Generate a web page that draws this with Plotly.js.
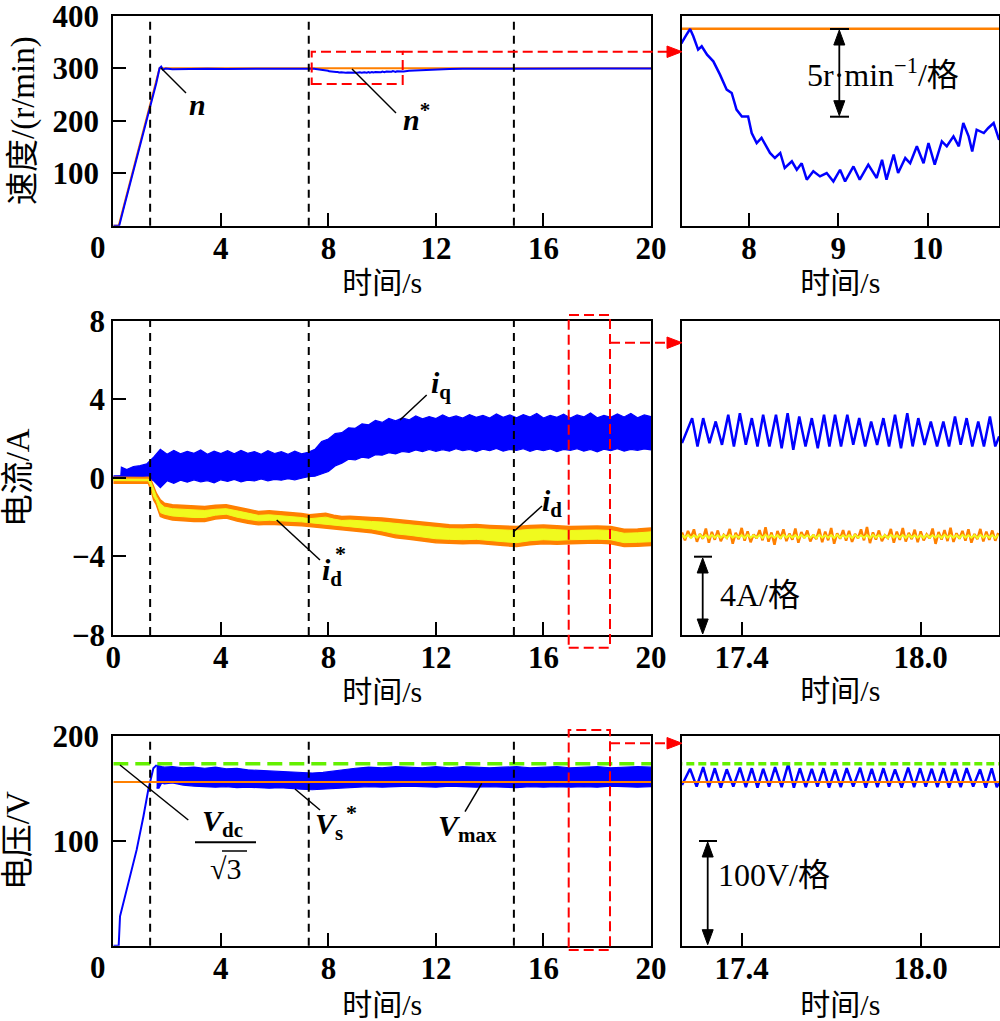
<!DOCTYPE html>
<html><head><meta charset="utf-8">
<script src="https://cdn.plot.ly/plotly-3.0.1.min.js"></script>
<style>html,body{margin:0;padding:0;background:#fff}#chart{width:1000px;height:1021px}</style>
</head><body><div id="chart"></div>
<script>
// ---------------- DATA ----------------
const event_times = [1.37, 7.27, 14.9];

// speed reference n*
const t_nref = [0, 0.2, 1.72, 20];
const n_ref = [0, 0, 300, 300];
// measured speed n
const t_n = [0, 0.22, 0.4, 0.6, 0.8, 1.0, 1.2, 1.4, 1.6, 1.72,
  1.78, 1.85, 1.95, 2.2, 2.8, 3.5, 4.2, 5.0, 5.8, 6.5,
  7.0, 7.245, 7.30, 7.34, 7.376, 7.43, 7.47, 7.53, 7.60, 7.675,
  7.75, 7.806, 7.86, 7.92, 7.99, 8.03, 8.086, 8.14, 8.235, 8.29,
  8.35, 8.40, 8.48, 8.535, 8.59, 8.647, 8.72, 8.795, 8.87, 8.945,
  9.02, 9.076, 9.17, 9.24, 9.336, 9.43, 9.49, 9.54, 9.62, 9.67,
  9.75, 9.805, 9.88, 9.955, 10.01, 10.08, 10.16, 10.215, 10.29, 10.35,
  10.40, 10.46, 10.50, 10.55, 10.63, 10.68, 10.74, 10.80, 11.0, 11.5,
  12.0, 12.5, 13.0, 14.0, 15.0, 16.0, 17.0, 18.0, 19.0, 20.0];
const n_meas = [0, 0, 36, 75, 114, 154, 193, 232, 272, 300,
  303, 297, 299.5, 298.2, 298.8, 299.1, 298.6, 299.0, 298.7, 299.2,
  298.9, 299.18, 299.66, 299.98, 299.56, 298.8, 298.99, 298.51, 298.13, 297.37,
  296.51, 296.32, 295.37, 294.98, 294.98, 294.03, 293.46, 293.75, 292.89, 292.6,
  292.89, 292.03, 292.41, 291.93, 292.3, 291.36, 291.84, 291.55, 291.74, 291.26,
  291.93, 291.26, 292.12, 291.36, 292.22, 291.46, 292.5, 291.36, 292.8, 291.74,
  292.6, 292.3, 293.27, 292.3, 293.46, 292.22, 293.55, 293.27, 293.84, 293.27,
  294.6, 293.84, 292.98, 294.22, 294.03, 294.32, 294.6, 293.65, 295.0, 296.5,
  297.6, 298.4, 299.0, 299.3, 299.5, 299.4, 299.6, 299.5, 299.4, 299.5];

// q-axis current envelope (0-20 s)
const t_iq = [0, 0.28, 0.3, 0.5, 0.75, 1.0, 1.25, 1.4, 1.5, 1.75,
  2.0, 2.25, 2.5, 2.75, 3.0, 3.25, 3.5, 3.75, 4.0, 4.25,
  4.5, 4.75, 5.0, 5.25, 5.5, 5.75, 6.0, 6.25, 6.5, 6.75,
  7.0, 7.25, 7.5, 7.75, 8.0, 8.25, 8.5, 8.75, 9.0, 9.25,
  9.5, 9.75, 10.0, 10.25, 10.5, 10.75, 11.0, 11.25, 11.5, 11.75,
  12.0, 12.25, 12.5, 12.75, 13.0, 13.25, 13.5, 13.75, 14.0, 14.25,
  14.5, 14.75, 15.0, 15.25, 15.5, 15.75, 16.0, 16.25, 16.5, 16.75,
  17.0, 17.25, 17.5, 17.75, 18.0, 18.25, 18.5, 18.75, 19.0, 19.25,
  19.5, 19.75, 20.0];
const iq_hi = [0.10, 0.12, 0.55, 0.42, 0.58, 0.62, 0.72, 0.90, 1.05, 1.45,
  1.20, 1.40, 1.22, 1.35, 1.25, 1.42, 1.20, 1.36, 1.24, 1.38,
  1.22, 1.40, 1.25, 1.34, 1.20, 1.38, 1.24, 1.33, 1.20, 1.36,
  1.22, 1.30, 1.45, 1.85, 1.98, 2.25, 2.30, 2.55, 2.52, 2.75,
  2.70, 2.92, 2.82, 3.02, 2.90, 3.05, 2.95, 3.15, 3.00, 3.12,
  3.02, 3.20, 3.05, 3.15, 3.04, 3.22, 3.08, 3.18, 3.05, 3.25,
  3.08, 3.20, 3.06, 3.22, 3.10, 3.28, 3.05, 3.18, 3.08, 3.24,
  3.05, 3.20, 3.10, 3.30, 3.06, 3.18, 3.08, 3.25, 3.10, 3.28,
  3.06, 3.20, 3.12];
const iq_lo = [-0.05, -0.05, -0.06, 0.00, -0.03, 0.02, -0.02, -0.08, -0.15, -0.50,
  -0.15, -0.28, -0.12, -0.22, -0.10, -0.20, -0.14, -0.25, -0.10, -0.18,
  -0.08, -0.20, -0.12, -0.16, -0.06, -0.15, -0.08, -0.12, -0.04, -0.10,
  -0.02, 0.06, 0.08, 0.22, 0.32, 0.60, 0.75, 0.95, 0.92, 1.05,
  1.00, 1.18, 1.15, 1.28, 1.22, 1.35, 1.30, 1.42, 1.34, 1.45,
  1.35, 1.44, 1.36, 1.48, 1.38, 1.45, 1.33, 1.46, 1.38, 1.50,
  1.36, 1.45, 1.40, 1.48, 1.35, 1.46, 1.38, 1.47, 1.33, 1.45,
  1.40, 1.48, 1.36, 1.45, 1.32, 1.46, 1.38, 1.48, 1.36, 1.45,
  1.40, 1.47, 1.42];

// d-axis current envelopes (0-20 s)
const t_env = [0, 0.25, 0.3, 0.5, 0.7, 0.9, 1.1, 1.3, 1.4, 1.5, 1.6, 1.75, 1.9,
  2.2, 2.6, 3.0, 3.4, 3.8, 4.2, 4.6, 5.0, 5.4, 5.8, 6.2, 6.6, 7.0, 7.3,
  7.6, 7.9, 8.2, 8.5, 8.8, 9.2, 9.6, 10.0,
  10.5, 11.0, 11.5, 12.0, 12.5, 13.0, 13.5, 14.0, 14.5, 15.0, 15.5, 16.0, 16.5, 17.0, 17.5, 18.0, 18.5, 19.0, 19.5, 20.0];
const id_hi = [0.03, 0.02, 0.02, 0.03, 0.02, 0.03, 0.02, 0.03, -0.10, -0.44, -0.78, -1.12, -1.29,
  -1.37, -1.40, -1.44, -1.46, -1.40, -1.37, -1.48, -1.58, -1.71, -1.68, -1.72, -1.78, -1.82, -1.88,
  -1.84, -1.80, -1.90, -1.97, -1.95, -1.97, -2.02, -2.05,
  -2.12, -2.20, -2.28, -2.35, -2.39, -2.40, -2.38, -2.42, -2.46, -2.48, -2.42, -2.40, -2.44, -2.48, -2.46, -2.45, -2.48, -2.62, -2.60, -2.55];
const id_lo = [-0.27, -0.27, -0.25, -0.27, -0.26, -0.27, -0.25, -0.27, -0.60, -1.12, -1.37, -1.97, -2.05,
  -2.14, -2.18, -2.22, -2.22, -2.10, -2.05, -2.20, -2.31, -2.39, -2.36, -2.38, -2.40, -2.44, -2.48,
  -2.52, -2.56, -2.60, -2.65, -2.70, -2.73, -2.80, -2.90,
  -3.05, -3.12, -3.20, -3.30, -3.33, -3.35, -3.33, -3.40, -3.45, -3.50, -3.40, -3.35, -3.38, -3.35, -3.33, -3.32, -3.35, -3.50, -3.48, -3.45];
const ids_hi = [-0.06, -0.06, -0.06, -0.07, -0.06, -0.07, -0.06, -0.07, -0.22, -0.60, -0.95, -1.32, -1.49,
  -1.57, -1.60, -1.64, -1.66, -1.60, -1.57, -1.68, -1.78, -1.91, -1.88, -1.92, -1.98, -2.02, -2.08,
  -2.04, -2.00, -2.10, -2.17, -2.15, -2.17, -2.22, -2.25,
  -2.32, -2.40, -2.48, -2.55, -2.59, -2.60, -2.58, -2.62, -2.66, -2.68, -2.62, -2.60, -2.64, -2.68, -2.66, -2.65, -2.68, -2.82, -2.80, -2.75];
const ids_lo = [-0.14, -0.14, -0.14, -0.15, -0.14, -0.15, -0.14, -0.15, -0.42, -0.95, -1.17, -1.77, -1.85,
  -1.94, -1.98, -2.02, -2.02, -1.90, -1.85, -2.00, -2.11, -2.19, -2.16, -2.18, -2.20, -2.24, -2.28,
  -2.32, -2.36, -2.40, -2.45, -2.50, -2.53, -2.60, -2.70,
  -2.85, -2.92, -3.00, -3.10, -3.13, -3.15, -3.13, -3.20, -3.25, -3.30, -3.20, -3.15, -3.18, -3.15, -3.13, -3.12, -3.15, -3.30, -3.28, -3.25];

// zoomed currents (17.2 - 18.26 s)
const t_iq_r = [17.200, 17.234, 17.252, 17.271, 17.292, 17.313, 17.334, 17.355, 17.374, 17.394,
  17.414, 17.434, 17.453, 17.472, 17.493, 17.515, 17.534, 17.554, 17.573, 17.593,
  17.614, 17.635, 17.655, 17.676, 17.694, 17.713, 17.733, 17.754, 17.774, 17.794,
  17.814, 17.834, 17.854, 17.875, 17.894, 17.914, 17.934, 17.955, 17.973, 17.992,
  18.013, 18.034, 18.055, 18.076, 18.095, 18.115, 18.134, 18.154, 18.173, 18.193,
  18.212, 18.232, 18.250, 18.263];
const iq_r = [1.77, 3.04, 1.60, 3.04, 1.77, 2.87, 1.68, 3.21, 1.60, 3.29,
  1.68, 3.04, 1.60, 3.21, 1.60, 3.21, 1.51, 3.29, 1.43, 3.12,
  1.60, 3.04, 1.51, 3.21, 1.60, 3.21, 1.60, 3.21, 1.68, 3.04,
  1.60, 2.87, 1.68, 3.04, 1.60, 3.21, 1.51, 3.29, 1.60, 3.04,
  1.68, 2.87, 1.60, 2.87, 1.60, 3.12, 1.68, 3.04, 1.60, 2.87,
  1.60, 3.12, 1.60, 2.11];
const t_r = [17.20, 17.21, 17.22, 17.23, 17.24, 17.25, 17.26, 17.27, 17.28, 17.29,
  17.30, 17.31, 17.32, 17.33, 17.34, 17.35, 17.36, 17.37, 17.38, 17.39,
  17.40, 17.41, 17.42, 17.43, 17.44, 17.45, 17.46, 17.47, 17.48, 17.49,
  17.50, 17.51, 17.52, 17.53, 17.54, 17.55, 17.56, 17.57, 17.58, 17.59,
  17.60, 17.61, 17.62, 17.63, 17.64, 17.65, 17.66, 17.67, 17.68, 17.69,
  17.70, 17.71, 17.72, 17.73, 17.74, 17.75, 17.76, 17.77, 17.78, 17.79,
  17.80, 17.81, 17.82, 17.83, 17.84, 17.85, 17.86, 17.87, 17.88, 17.89,
  17.90, 17.91, 17.92, 17.93, 17.94, 17.95, 17.96, 17.97, 17.98, 17.99,
  18.00, 18.01, 18.02, 18.03, 18.04, 18.05, 18.06, 18.07, 18.08, 18.09,
  18.10, 18.11, 18.12, 18.13, 18.14, 18.15, 18.16, 18.17, 18.18, 18.19,
  18.20, 18.21, 18.22, 18.23, 18.24, 18.25, 18.26];
const id_r = [-2.78, -3.18, -2.70, -3.05, -2.62, -3.25, -2.85, -3.10, -2.58, -3.30,
  -2.75, -3.15, -2.68, -3.22, -2.90, -3.05, -2.60, -3.35, -2.80, -3.12,
  -2.55, -3.20, -2.72, -3.28, -2.88, -3.08, -2.66, -3.18, -2.52, -3.25,
  -2.78, -3.40, -2.70, -3.10, -2.62, -3.22, -2.84, -3.15, -2.58, -3.30,
  -2.76, -3.06, -2.68, -3.24, -2.90, -3.12, -2.60, -3.28, -2.74, -3.18,
  -2.55, -3.35, -2.82, -3.10, -2.66, -3.20, -2.70, -3.26, -2.86, -3.08,
  -2.62, -3.18, -2.50, -3.32, -2.78, -3.14, -2.68, -3.22, -2.92, -3.06,
  -2.60, -3.30, -2.74, -3.16, -2.56, -3.24, -2.80, -3.12, -2.64, -3.28,
  -2.72, -3.18, -2.88, -3.08, -2.58, -3.36, -2.76, -3.14, -2.66, -3.22,
  -2.54, -3.26, -2.82, -3.10, -2.70, -3.20, -2.62, -3.30, -2.86, -3.12,
  -2.60, -3.24, -2.74, -3.16, -2.68, -3.20, -2.80];
const ids_r = [-2.91, -3.05, -2.90, -3.06, -2.92, -3.04, -2.90, -3.05, -2.91, -3.06,
  -2.90, -3.04, -2.92, -3.05, -2.91, -3.06, -2.90, -3.04, -2.92, -3.05,
  -2.91, -3.06, -2.90, -3.04, -2.92, -3.05, -2.91, -3.06, -2.90, -3.04,
  -2.92, -3.05, -2.91, -3.06, -2.90, -3.04, -2.92, -3.05, -2.91, -3.06,
  -2.90, -3.04, -2.92, -3.05, -2.91, -3.06, -2.90, -3.04, -2.92, -3.05,
  -2.91, -3.06, -2.90, -3.04, -2.92, -3.05, -2.91, -3.06, -2.90, -3.04,
  -2.92, -3.05, -2.91, -3.06, -2.90, -3.04, -2.92, -3.05, -2.91, -3.06,
  -2.90, -3.04, -2.92, -3.05, -2.91, -3.06, -2.90, -3.04, -2.92, -3.05,
  -2.91, -3.06, -2.90, -3.04, -2.92, -3.05, -2.91, -3.06, -2.90, -3.04,
  -2.92, -3.05, -2.91, -3.06, -2.90, -3.04, -2.92, -3.05, -2.91, -3.06,
  -2.90, -3.04, -2.92, -3.05, -2.91, -3.06, -2.90];

// voltages
const v_dc_sqrt3 = 173.2;
const v_max = 155.9;
const t_lim = [0, 20];
const t_vr = [0, 0.2, 0.25, 0.5, 0.87, 1.12, 1.30, 1.49, 1.61];
const vs_ramp = [0, 0, 28, 53.5, 91.5, 123, 148.4, 169, 172];
const t_vs = [1.61, 1.7, 1.8, 1.9, 2.2, 2.6, 3.0, 3.4, 3.8, 4.2,
  4.6, 5.0, 5.4, 5.8, 6.2, 6.6, 7.0, 7.4, 7.8, 8.2,
  8.6, 9.0, 9.5, 10, 10.5, 11, 11.5, 12, 12.5, 13,
  13.5, 14, 14.5, 15, 15.5, 16, 16.5, 17, 17.5, 18,
  18.5, 19, 19.5, 20];
const vs_hi = [172, 171, 170.5, 170, 170.5, 169.5, 170, 169, 170, 168.5,
  169, 167.5, 167, 166.5, 166, 165.5, 165, 164.5, 165, 166.5,
  168, 169, 170, 169.5, 170.5, 170, 169.5, 170.5, 169.5, 170.5,
  170, 169.5, 170, 170.5, 169.5, 170, 170.5, 169.5, 170, 170.5,
  169.5, 170, 170.5, 170];
const vs_lo = [150, 150, 155, 154, 155, 153, 152, 151.5, 151, 151.5,
  150.5, 151, 150.5, 150, 150.5, 149.5, 149, 148.5, 149, 149.5,
  150, 151, 151.5, 151, 151.5, 152, 151.5, 151, 152, 151.5,
  151, 151.5, 151, 150.5, 151.5, 151, 151.5, 151, 151.5, 151,
  152, 151.5, 151, 151.5];
const t_vs_r = [17.200, 17.227, 17.249, 17.271, 17.290, 17.310, 17.330, 17.350, 17.372, 17.394,
  17.414, 17.434, 17.453, 17.472, 17.492, 17.512, 17.534, 17.556, 17.575, 17.595,
  17.615, 17.635, 17.654, 17.674, 17.693, 17.713, 17.732, 17.752, 17.774, 17.797,
  17.816, 17.836, 17.855, 17.875, 17.894, 17.914, 17.936, 17.958, 17.978, 17.998,
  18.017, 18.037, 18.056, 18.076, 18.095, 18.115, 18.134, 18.154, 18.176, 18.199,
  18.218, 18.238, 18.255, 18.263];
const vs_r = [153, 168.5, 151.5, 170, 151, 169, 150.5, 168, 151.5, 169.5,
  151, 169, 150.5, 168.5, 151.5, 170, 151, 173, 150.5, 169,
  151, 168.5, 151.5, 169, 150.5, 168, 151, 169, 151.5, 169.5,
  150.5, 168.5, 151, 169, 151.5, 168, 150.5, 169.5, 151, 169,
  151.5, 168.5, 151, 169, 150.5, 168.5, 151, 169, 151.5, 168,
  150.5, 169, 151, 155];

// tick labels
const xTicksLeft = [0, 4, 8, 12, 16, 20];
const xTicksCorner = [4, 8, 12, 16, 20];
const xTicksTopRight = [8, 9, 10];
const xTicksZoom = [17.4, 18.0];
const xTickTextZoom = ['17.4', '18.0'];
const yTicksSpeed = [100, 200, 300, 400];
const yTicksCurrent = [-8, -4, 0, 4, 8];
const yTicksVolt = [100, 200];

// ---------------- STYLE / LAYOUT ----------------
const BLUE = '#0000ff', ORANGE = '#ff8000', YELLOW = '#f0fa1e', GREEN = '#64f000', RED = '#ff0000';
const W = 1000, H = 1021;
const PX = x => x / W, PY = y => 1 - y / H;
const FONT = 'Liberation Serif, Times New Roman, Noto Sans CJK SC, serif';

const xL = [PX(113.3), PX(651)], xR = [PX(681.7), PX(999)];
const yTop = [PY(225.7), PY(15.7)], yMid = [PY(635), PY(320.7)], yBot = [PY(945.7), PY(735.7)];

const base = {showline: true, mirror: true, linecolor: 'black', linewidth: 2, ticks: 'inside', ticklen: 13,
  tickwidth: 2, tickcolor: 'black', showgrid: false, zeroline: false, ticklabeloverflow: 'allow',
  tickfont: {size: 31, family: FONT, color: 'black', weight: 'bold'}};
const xBase = Object.assign({}, base, {ticklabelstandoff: -6});
const xTitle = s => ({text: '时间/s', font: {size: 30, family: FONT, color: 'black'}, standoff: s});
const yTitle = (t, s) => ({text: t, font: {size: 33, family: FONT, color: 'black'}, standoff: s});

function line(x, y, xa, ya, color, width, dash) {
  return {type: 'scatter', mode: 'lines', x: x, y: y, xaxis: xa, yaxis: ya, hoverinfo: 'skip',
    line: {color: color, width: width, dash: dash || 'solid'}};
}
function band(x, lo, hi, xa, ya, color, lw) {
  return [
    {type: 'scatter', mode: 'lines', x: x, y: lo, xaxis: xa, yaxis: ya, hoverinfo: 'skip', line: {color: color, width: lw}},
    {type: 'scatter', mode: 'lines', x: x, y: hi, xaxis: xa, yaxis: ya, hoverinfo: 'skip', line: {color: color, width: lw},
      fill: 'tonexty', fillcolor: color}
  ];
}

const data = [
  line(t_nref, n_ref, 'x', 'y', ORANGE, 2),
  line(t_n, n_meas, 'x', 'y', BLUE, 2),
  line(t_nref, n_ref, 'x2', 'y2', ORANGE, 2.5),
  line(t_n, n_meas, 'x2', 'y2', BLUE, 2.5),
  ...band(t_iq, iq_lo, iq_hi, 'x3', 'y3', BLUE, 1.2),
  ...band(t_env, id_lo, id_hi, 'x3', 'y3', ORANGE, 1.5),
  ...band(t_env, ids_lo, ids_hi, 'x3', 'y3', YELLOW, 1),
  line(t_iq_r, iq_r, 'x4', 'y4', BLUE, 2.5),
  line(t_r, id_r, 'x4', 'y4', ORANGE, 2.5),
  line(t_r, ids_r, 'x4', 'y4', YELLOW, 2),
  line(t_vr, vs_ramp, 'x5', 'y5', BLUE, 2),
  ...band(t_vs, vs_lo, vs_hi, 'x5', 'y5', BLUE, 1.2),
  line(t_lim, [v_max, v_max], 'x5', 'y5', ORANGE, 2),
  line(t_lim, [v_dc_sqrt3, v_dc_sqrt3], 'x5', 'y5', GREEN, 3.5, '15px,7px'),
  line(t_vs_r, vs_r, 'x6', 'y6', BLUE, 2.5),
  line(t_lim, [v_max, v_max], 'x6', 'y6', ORANGE, 2),
  line(t_lim, [v_dc_sqrt3, v_dc_sqrt3], 'x6', 'y6', GREEN, 3.5, '8px,4px')
];

// shapes
const shapes = [];
[['x', 'y'], ['x3', 'y3'], ['x5', 'y5']].forEach(([xa, ya]) => {
  event_times.forEach(t => shapes.push({type: 'line', xref: xa, yref: ya + ' domain', x0: t, x1: t, y0: 0, y1: 1,
    line: {color: 'black', width: 2, dash: '8px,6px'}}));
});
function seg(x0, y0, x1, y1, color, width, dash) {
  return {type: 'line', xref: 'paper', yref: 'paper', x0: PX(x0), y0: PY(y0), x1: PX(x1), y1: PY(y1),
    line: {color: color, width: width, dash: dash || 'solid'}};
}
function box(x0, y0, x1, y1) {
  return {type: 'rect', xref: 'paper', yref: 'paper', x0: PX(x0), y0: PY(y1), x1: PX(x1), y1: PY(y0),
    line: {color: RED, width: 2, dash: '10px,5px'}};
}
function tri(xa, ya, xb, yb, xc, yc, color) {
  return {type: 'path', xref: 'paper', yref: 'paper',
    path: `M ${PX(xa)} ${PY(ya)} L ${PX(xb)} ${PY(yb)} L ${PX(xc)} ${PY(yc)} Z`,
    fillcolor: color, line: {color: color, width: 1}};
}
function dblArrow(x, yTop, yBot) {
  return [
    seg(x, yTop + 12, x, yBot - 12, 'black', 1.8),
    tri(x, yTop, x - 5.5, yTop + 15, x + 5.5, yTop + 15, 'black'),
    tri(x, yBot, x - 5.5, yBot - 15, x + 5.5, yBot - 15, 'black')
  ];
}
shapes.push(box(311.7, 51.7, 402.7, 84));
shapes.push(seg(402.7, 51.7, 668, 51.7, RED, 2, '10px,5px'));
shapes.push(tri(667, 46, 682, 51.7, 667, 57.5, RED));
shapes.push(box(568.7, 315, 610, 647.7));
shapes.push(seg(610, 342.7, 668, 342.7, RED, 2, '10px,5px'));
shapes.push(tri(667, 337, 682, 342.7, 667, 348.5, RED));
shapes.push(box(568.7, 730, 610, 950));
shapes.push(seg(610, 743.3, 668, 743.3, RED, 2, '10px,5px'));
shapes.push(tri(667, 737.5, 682, 743.3, 667, 749, RED));
shapes.push(seg(161, 68, 186, 93, 'black', 1.5));
shapes.push(seg(352, 69, 396, 113, 'black', 1.5));
shapes.push(seg(400, 420, 426.7, 395, 'black', 1.5));
shapes.push(seg(513.3, 532, 542, 506, 'black', 1.5));
shapes.push(seg(276.7, 520, 320, 560, 'black', 1.5));
shapes.push(seg(120, 765, 188.3, 820, 'black', 1.5));
shapes.push(seg(295, 789, 320, 810, 'black', 1.5));
shapes.push(seg(481.7, 783.3, 465, 811.7, 'black', 1.5));
shapes.push(seg(195, 842.3, 256, 842.3, 'black', 2));
shapes.push(seg(222, 851, 247, 851, 'black', 1.5));
shapes.push(seg(830, 29, 849, 29, 'black', 2));
shapes.push(seg(830, 116.7, 849, 116.7, 'black', 2));
shapes.push(...dblArrow(839.3, 30, 115.7));
shapes.push(seg(694, 556.7, 712, 556.7, 'black', 2));
shapes.push(...dblArrow(702.7, 558, 634));
shapes.push(seg(699, 841, 717, 841, 'black', 2));
shapes.push(...dblArrow(707.7, 842, 944.7));

function ann(x, y, text, size, xanchor, weight) {
  return {xref: 'paper', yref: 'paper', x: PX(x), y: PY(y), text: text, showarrow: false,
    xanchor: xanchor || 'center', yanchor: 'middle', font: {family: FONT, size: size, color: 'black', weight: weight || 'normal'}};
}
const annotations = [
  ann(97.5, 248, '0', 31, 'center', 'bold'),
  ann(97.5, 967.5, '0', 31, 'center', 'bold'),
  ann(197, 104, '<b><i>n</i></b>', 30),
  ann(401, 117, '<b><i>n</i><sup>*</sup></b>', 30, 'left'),
  ann(883, 73, '5r·min<sup>−1</sup>/格', 32),
  ann(429, 385, '<b><i>i</i><sub>q</sub></b>', 30, 'left'),
  ann(540, 503, '<b><i>i</i><sub>d</sub></b>', 30, 'left'),
  ann(320, 572, '<b><i>i</i><sub>d</sub></b>', 30, 'left'),
  ann(340, 553, '<b>*</b>', 22),
  ann(760, 595, '4A/格', 32),
  ann(222, 823, '<b><i>V</i><sub>dc</sub></b>', 30),
  ann(225, 868, '√3', 30),
  ann(313, 826, '<b><i>V</i><sub>s</sub></b>', 30, 'left'),
  ann(351, 812, '<b>*</b>', 22),
  ann(436, 828, '<b><i>V</i><sub>max</sub></b>', 30, 'left'),
  ann(774, 875, '100V/格', 32)
];

const layout = {
  width: W, height: H, margin: {l: 0, r: 0, t: 0, b: 0}, showlegend: false,
  paper_bgcolor: 'white', plot_bgcolor: 'rgba(0,0,0,0)',
  font: {family: FONT, size: 30, color: 'black'},
  xaxis: Object.assign({}, xBase, {domain: xL, anchor: 'y', range: [0, 20], tickvals: xTicksCorner, title: xTitle(6)}),
  yaxis: Object.assign({}, base, {domain: yTop, anchor: 'x', range: [0, 400], tickvals: yTicksSpeed, ticklabelstandoff: 6,
    title: yTitle('速度/(r/min)', 8)}),
  xaxis2: Object.assign({}, xBase, {domain: xR, anchor: 'y2', range: [7.246, 10.80], tickvals: xTicksTopRight, title: xTitle(6)}),
  yaxis2: Object.assign({}, base, {domain: yTop, anchor: 'x2', range: [288.73, 300.74], ticks: '', showticklabels: false}),
  xaxis3: Object.assign({}, xBase, {domain: xL, anchor: 'y3', range: [0, 20], tickvals: xTicksLeft, title: xTitle(6)}),
  yaxis3: Object.assign({}, base, {domain: yMid, anchor: 'x3', range: [-8, 8], tickvals: yTicksCurrent,
    title: yTitle('电流/A', 36)}),
  xaxis4: Object.assign({}, xBase, {domain: xR, anchor: 'y4', range: [17.199, 18.2625], tickvals: xTicksZoom, ticktext: xTickTextZoom, title: xTitle(6)}),
  yaxis4: Object.assign({}, base, {domain: yMid, anchor: 'x4', range: [-8, 8], ticks: '', showticklabels: false}),
  xaxis5: Object.assign({}, xBase, {domain: xL, anchor: 'y5', range: [0, 20], tickvals: xTicksCorner, title: xTitle(15)}),
  yaxis5: Object.assign({}, base, {domain: yBot, anchor: 'x5', range: [0, 200], tickvals: yTicksVolt, ticklabelstandoff: 6,
    title: yTitle('电压/V', 14)}),
  xaxis6: Object.assign({}, xBase, {domain: xR, anchor: 'y6', range: [17.199, 18.2625], tickvals: xTicksZoom, ticktext: xTickTextZoom, title: xTitle(15)}),
  yaxis6: Object.assign({}, base, {domain: yBot, anchor: 'x6', range: [0, 200], ticks: '', showticklabels: false}),
  shapes: shapes,
  annotations: annotations
};

Plotly.newPlot('chart', data, layout, {staticPlot: true, displayModeBar: false});
</script></body></html>
